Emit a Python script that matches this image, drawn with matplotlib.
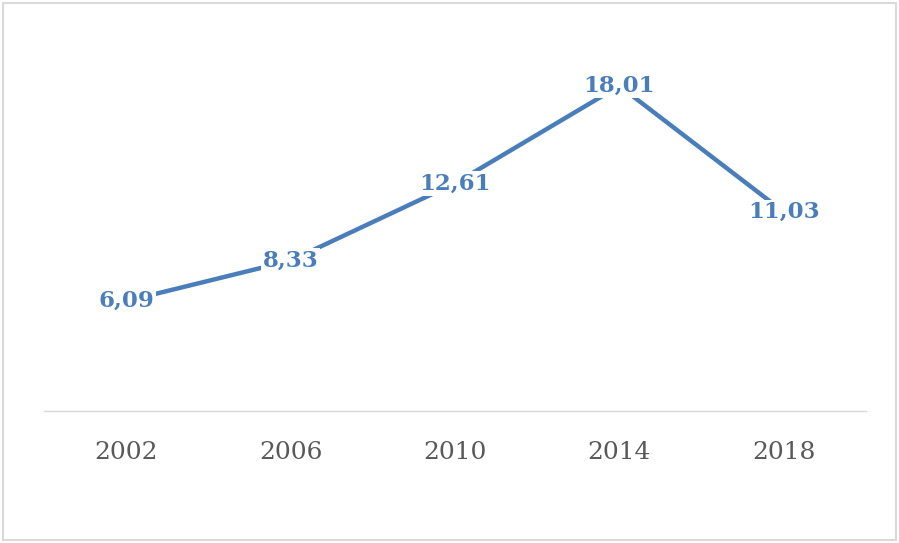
import matplotlib.pyplot as plt
from matplotlib.patches import Rectangle

years = ["2002", "2006", "2010", "2014", "2018"]
values = [6.09, 8.33, 12.61, 18.01, 11.03]
labels = ["6,09", "8,33", "12,61", "18,01", "11,03"]

blue = "#4a7ebb"

fig = plt.figure(figsize=(8.99, 5.43), dpi=100)
ax = fig.add_axes([44 / 899, 1 - 411 / 543, (866 - 44) / 899, (411 - 50) / 543])

x = range(len(years))
ax.plot(x, values, color=blue, linewidth=3.2, solid_capstyle="butt")

for xi, v, lab in zip(x, values, labels):
    ax.text(xi, v, lab, ha="center", va="center", color=blue,
            fontsize=16.5, fontweight="bold", family="DejaVu Serif",
            bbox=dict(facecolor="white", edgecolor="none", pad=1.0))

ax.set_xlim(-0.5, 4.5)
ax.set_ylim(0, 20)
ax.set_xticks(list(x))
ax.set_xticklabels(years, family="DejaVu Serif", fontsize=18, color="#595959")
ax.set_yticks([])
ax.tick_params(axis="x", length=0, pad=21.5)

for s in ["top", "right", "left"]:
    ax.spines[s].set_visible(False)
ax.spines["bottom"].set_color("#d9d9d9")
ax.spines["bottom"].set_linewidth(1.0)

# chart border
fig.patches.append(Rectangle((3 / 899, 3 / 543), 893 / 899, 537 / 543,
                             transform=fig.transFigure, fill=False,
                             edgecolor="#d9d9d9", linewidth=1.5))

fig.savefig("out.png", dpi=100)
